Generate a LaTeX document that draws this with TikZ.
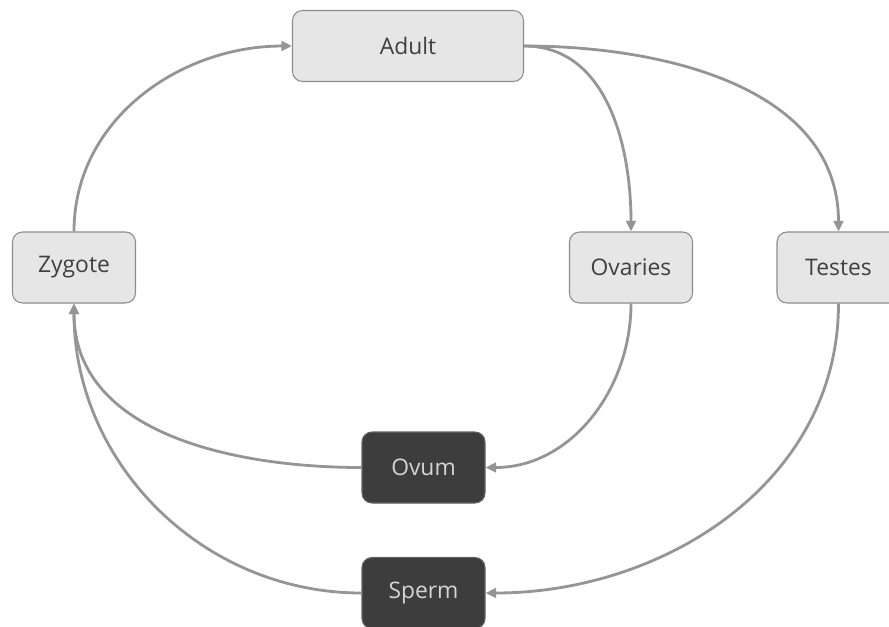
\documentclass[tikz,border=0pt]{standalone}
\usepackage{fontspec}
\setmainfont{Open Sans}
\usepackage{xcolor}
\usepackage{tikz}
\usetikzlibrary{arrows.meta}
\usetikzlibrary{shapes,positioning}

\definecolor{boxfill}{HTML}{E6E6E6}
\definecolor{boxline}{HTML}{8C8C8C}
\definecolor{boxtext}{HTML}{404040}
\definecolor{cellfill}{HTML}{3D3D3D}
\definecolor{celltext}{HTML}{D4D4D4}
\definecolor{flowline}{HTML}{959595}

\tikzset{
    stage/.style={
        draw=boxline,
        line width=0.6pt,
        rounded corners=0.2cm,
        fill=boxfill,
        text=boxtext,
        font=\fontsize{13}{15}\selectfont,
        minimum width=2.46cm,
        minimum height=1.42cm,
        inner sep=0pt
    },
    gamete/.style={
        stage,
        draw=cellfill!80,
        fill=cellfill,
        text=celltext
    },
    flow/.style={
        -{Triangle[length=6pt,width=5.5pt]},
        draw=flowline,
        line width=1.6pt
    }
}

\begin{document}
\begin{tikzpicture}
                \useasboundingbox (0,0) rectangle (17.78,-12.52);

                \node[stage, minimum width=4.62cm] (adult) at (8.16,-0.92) {Adult};
                \node[stage] (zygote) at (1.48,-5.35) {Zygote};
                \node[stage] (ovaries) at (12.62,-5.35) {Ovaries};
                \node[stage] (testes) at (16.77,-5.35) {Testes};
                \node[gamete] (ovum) at (8.47,-9.35) {Ovum};
                \node[gamete] (sperm) at (8.47,-11.86) {Sperm};

                \draw[flow] (zygote.north) to[out=90, in=180] (adult.west);
                \draw[flow] (adult.east) to[out=0, in=90] (ovaries.north);
                \draw[flow] (adult.east) to[out=0, in=90] (testes.north);
                \draw[flow] (ovaries.south) to[out=-90, in=0] (ovum.east);
                \draw[flow] (testes.south) to[out=-90, in=0] (sperm.east);
                \draw[flow] (ovum.west) to[out=180, in=-90] (zygote.south);
                \draw[flow] (sperm.west) to[out=180, in=-90] (zygote.south);

             \end{tikzpicture}
\end{document}
